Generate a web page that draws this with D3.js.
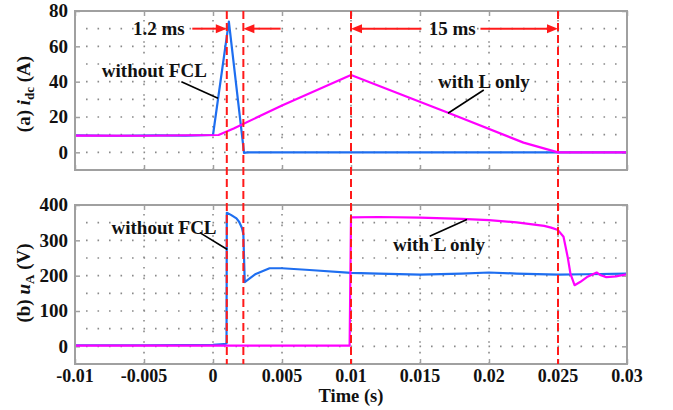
<!DOCTYPE html>
<html>
<head>
<meta charset="utf-8">
<script src="https://cdn.jsdelivr.net/npm/d3@7"></script>
<style>
  html, body { margin: 0; padding: 0; background: #fff; }
  svg { display: block; }
  text { font-family: "Liberation Serif", "Times New Roman", serif; font-weight: bold; fill: #111; }
</style>
</head>
<body>
<svg id="chart" width="673" height="410"></svg>
<script>
// Time axis (s)
const timeTicks = [-0.01, -0.005, 0, 0.005, 0.01, 0.015, 0.02, 0.025, 0.03];
const timeTickLabels = ["-0.01", "-0.005", "0", "0.005", "0.01", "0.015", "0.02", "0.025", "0.03"];

// Panel (a): DC current i_dc (A)
const idcTicks = [0, 20, 40, 60, 80];
const idcTickLabels = ["0", "20", "40", "60", "80"];
const idcGrid = [0, 10, 20, 30, 40, 50, 60, 70];
const idcNoFclT = [-0.01, -0.007, -0.004, -0.002, 0.0, 0.00115, 0.00225, 0.0025, 0.03];
const idcNoFclV = [9.6, 9.4, 9.6, 9.5, 9.8, 74, -0.3, 0, 0];
const idcLT = [-0.01, -0.005, 0.0004, 0.0015, 0.005, 0.01, 0.0175, 0.0225, 0.025, 0.03];
const idcLV = [9.5, 9.4, 9.8, 13.5, 26.5, 43.8, 21, 5.5, 0, 0];

// Panel (b): phase voltage u_A (V)
const uTicks = [0, 100, 200, 300, 400];
const uTickLabels = ["0", "100", "200", "300", "400"];
const uGrid = [0, 50, 100, 150, 200, 250, 300, 350];
const uNoFclT = [-0.01, -0.005, 0, 0.0008, 0.00098, 0.001, 0.0013, 0.0017, 0.0019, 0.0021, 0.0022, 0.0023,
                 0.0031, 0.0041, 0.005, 0.007, 0.01, 0.012, 0.015, 0.018, 0.02, 0.022, 0.025, 0.027, 0.03];
const uNoFclV = [3, 3, 4, 6, 8, 378, 372, 362, 352, 335, 318, 182,
                 205, 221, 221, 216, 208, 206, 203, 206, 209, 206, 203, 204, 206];
const uLT = [-0.01, 0.0099, 0.01, 0.012, 0.015, 0.018, 0.02, 0.022, 0.024, 0.0245, 0.025, 0.0254,
             0.0257, 0.0259, 0.0262, 0.0266, 0.0271, 0.0278, 0.0281, 0.0285, 0.0292, 0.03];
const uLV = [2, 2, 365, 366, 364, 361, 357, 351, 341, 336, 329, 310,
             253, 206, 173, 182, 196, 209, 201, 196, 198, 204];

// Event markers (s)
const eventTimes = [0.001, 0.0022, 0.01, 0.025];

const colNoFcl = "#1e6ef0";
const colL = "#ff00ff";
const colRed = "#ff1a1a";
const colFrame = "#a0a0a0";
const colGrid = "#8a8a8a";

const svg = d3.select("#chart");

const x = d3.scaleLinear().domain([-0.01, 0.03]).range([75, 627]);
const yA = d3.scaleLinear().domain([-10, 80]).range([170, 11]);
const yB = d3.scaleLinear().domain([-50, 400]).range([364, 205]);

function panel(y, gridVals, ticks, tickLabels) {
  const g = svg.append("g");
  const [y0, y1] = y.range();
  const [x0, x1] = x.range();
  // dotted horizontal grid
  g.selectAll(".hg").data(gridVals).join("line")
    .attr("x1", x0 + 11).attr("x2", x1)
    .attr("y1", d => y(d)).attr("y2", d => y(d))
    .attr("stroke", colGrid).attr("stroke-width", 1.6)
    .attr("stroke-dasharray", "1.6,9.9");
  // dotted vertical grid at the time ticks
  g.selectAll(".vg").data(timeTicks.slice(1, -1)).join("line")
    .attr("x1", d => x(d)).attr("x2", d => x(d))
    .attr("y1", y0).attr("y2", y1)
    .attr("stroke", colGrid).attr("stroke-width", 1.6)
    .attr("stroke-dasharray", "1.6,9");
  // inner tick marks on all sides
  const yAxisL = d3.axisLeft(y).tickValues(ticks).tickSize(-5).tickFormat("");
  const yAxisR = d3.axisRight(y).tickValues(ticks).tickSize(-5).tickFormat("");
  const xAxisB = d3.axisBottom(x).tickValues(timeTicks).tickSize(-5).tickFormat("");
  const xAxisT = d3.axisTop(x).tickValues(timeTicks).tickSize(-5).tickFormat("");
  [[yAxisL, `translate(${x0},0)`], [yAxisR, `translate(${x1},0)`],
   [xAxisB, `translate(0,${y0})`], [xAxisT, `translate(0,${y1})`]].forEach(([ax, tr]) => {
    const a = g.append("g").attr("transform", tr).call(ax);
    a.select(".domain").remove();
    a.selectAll("line").attr("stroke", colFrame).attr("stroke-width", 1.5);
  });
  // y tick labels
  g.selectAll(".yl").data(ticks).join("text")
    .attr("x", x0 - 7).attr("y", d => y(d)).attr("dy", "0.34em")
    .attr("text-anchor", "end").attr("font-size", 19)
    .text((d, i) => tickLabels[i]);
  return g;
}

const gA = panel(yA, idcGrid, idcTicks, idcTickLabels);
const gB = panel(yB, uGrid, uTicks, uTickLabels);

// x tick labels under panel (b)
svg.selectAll(".xl").data(timeTicks).join("text")
  .attr("x", d => x(d)).attr("y", 382)
  .attr("text-anchor", "middle").attr("font-size", 18)
  .text((d, i) => timeTickLabels[i]);

svg.append("text").attr("x", (x.range()[0] + x.range()[1]) / 2).attr("y", 402)
  .attr("text-anchor", "middle").attr("font-size", 18.5).text("Time (s)");

// rotated y titles with italic symbol and subscript
function yTitle(cy, label, sym, sub, unit) {
  const t = svg.append("text")
    .attr("transform", `translate(30,${cy}) rotate(-90)`)
    .attr("text-anchor", "middle").attr("font-size", 19);
  t.append("tspan").text(label + " ");
  t.append("tspan").attr("font-style", "italic").text(sym);
  t.append("tspan").attr("font-size", 13).attr("dy", 4).text(sub);
  t.append("tspan").attr("dy", -4).text(" " + unit);
}
yTitle(94, "(a)", "i", "dc", "(A)");
yTitle(283, "(b)", "u", "A", "(V)");

// traces
function trace(g, y, ts, vs, color) {
  const line = d3.line().x(d => x(d[0])).y(d => y(d[1]));
  g.append("path").datum(d3.zip(ts, vs))
    .attr("d", line).attr("fill", "none")
    .attr("stroke", color).attr("stroke-width", 2.2)
    .attr("stroke-linejoin", "round");
}
trace(gA, yA, idcNoFclT, idcNoFclV, colNoFcl);
trace(gA, yA, idcLT, idcLV, colL);
trace(gB, yB, uNoFclT, uNoFclV, colNoFcl);
trace(gB, yB, uLT, uLV, colL);

// frames
[yA, yB].forEach(y => {
  svg.append("rect")
    .attr("x", x.range()[0]).attr("y", y.range()[1])
    .attr("width", x.range()[1] - x.range()[0]).attr("height", y.range()[0] - y.range()[1])
    .attr("fill", "none").attr("stroke", colFrame).attr("stroke-width", 2);
});

// red dashed event markers spanning both panels
svg.selectAll(".ev").data(eventTimes).join("line")
  .attr("x1", d => x(d)).attr("x2", d => x(d))
  .attr("y1", yA.range()[1]).attr("y2", yB.range()[0])
  .attr("stroke", colRed).attr("stroke-width", 2)
  .attr("stroke-dasharray", "8,4");

// interval arrows
function arrow(tFrom, tTo, v) {
  const yy = yA(v);
  const xf = x(tFrom), xt = x(tTo);
  const dir = Math.sign(xt - xf);
  svg.append("line").attr("x1", xf).attr("x2", xt - dir * 8).attr("y1", yy).attr("y2", yy)
    .attr("stroke", colRed).attr("stroke-width", 2);
  svg.append("path")
    .attr("d", `M${xt},${yy} L${xt - dir * 11},${yy - 4.5} L${xt - dir * 11},${yy + 4.5} Z`)
    .attr("fill", colRed);
}
arrow(-0.0015, 0.001, 70);
arrow(0.0049, 0.0022, 70);
arrow(0.0151, 0.01, 70);
arrow(0.01938, 0.025, 70);

svg.append("text").attr("x", x(-0.00205)).attr("y", yA(70)).attr("dy", "0.34em")
  .attr("text-anchor", "end").attr("font-size", 19).text("1.2 ms");
svg.append("text").attr("x", x(0.01733)).attr("y", yA(70)).attr("dy", "0.34em")
  .attr("text-anchor", "middle").attr("font-size", 19).text("15 ms");

// callouts
function callout(y, tText, vText, t1, v1, t2, v2, label) {
  svg.append("line")
    .attr("x1", x(t1)).attr("y1", y(v1)).attr("x2", x(t2)).attr("y2", y(v2))
    .attr("stroke", "#000").attr("stroke-width", 1.6);
  svg.append("text").attr("x", x(tText)).attr("y", y(vText))
    .attr("text-anchor", "middle").attr("font-size", 19).text(label);
}
callout(yA, -0.00425, 42.6, -0.00229, 40.0, 0.00036, 30.6, "without FCL");
callout(yA, 0.01963, 36.2, 0.01962, 35.3, 0.01703, 22.1, "with L only");
callout(yB, -0.00355, 319, -0.00096, 322, 0.00104, 274, "without FCL");
callout(yB, 0.01638, 270, 0.0157, 311.7, 0.0184, 359, "with L only");
</script>
</body>
</html>
